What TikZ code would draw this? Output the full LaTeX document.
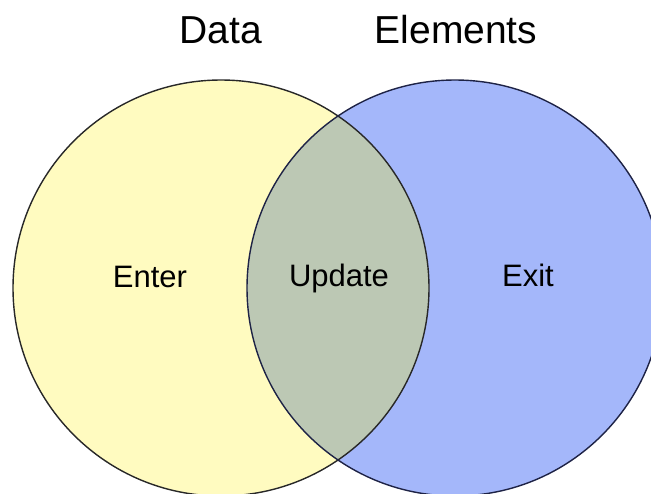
\documentclass[tikz,border=0pt]{standalone}
\usepackage{fontspec}
\setmainfont{Liberation Sans}
\definecolor{venyellow}{RGB}{255,251,192}
\definecolor{venblue}{RGB}{164,183,250}
\definecolor{vengrey}{RGB}{188,200,180}
\definecolor{venline}{RGB}{40,40,40}
\begin{document}
\begin{tikzpicture}[x=1pt,y=-1pt,
  setline/.style={draw=venline,line width=1.4pt},
  labeltext/.style={anchor=base,inner sep=0pt,font=\fontsize{31}{36}\selectfont},
  titletext/.style={anchor=base,inner sep=0pt,font=\fontsize{39}{46}\selectfont}]
\useasboundingbox (0,0) rectangle (651,493);
\clip (0,0) rectangle (651,493);
\fill[white] (0,0) rectangle (651,493);
\coordinate (cl) at (221,288);
\coordinate (cr) at (455,288);
\fill[venyellow] (cl) circle (208);
\fill[venblue] (cr) circle (208);
\begin{scope}
  \clip (cl) circle (208);
  \fill[vengrey] (cr) circle (208);
\end{scope}
\draw[setline] (cl) circle (208);
\draw[setline,draw={rgb,255:red,30;green,35;blue,70}] (cr) circle (208);
\node[titletext] (data) at (221,43) {Data};
\node[titletext] (elements) at (456,43) {Elements};
\node[labeltext] (enter) at (150,287) {Enter};
\node[labeltext] (update) at (339,286) {Update};
\node[labeltext] (exit) at (528,286) {Exit};
\end{tikzpicture}
\end{document}
